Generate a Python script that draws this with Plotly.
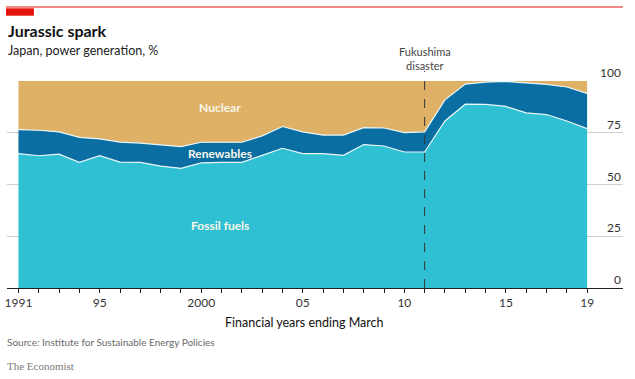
import plotly.graph_objects as go

years = list(range(1991, 2020))
fossil = [64.9, 63.9, 64.7, 60.7, 63.9, 60.8, 60.7, 58.9, 57.8, 60.4, 60.7, 60.7, 64.1, 67.5, 64.9,
          64.9, 64.1, 69.3, 68.6, 65.7, 65.7, 80.7, 88.8, 88.7, 87.7, 84.6, 83.8, 80.7, 77.0]
renewables = [11.6, 12.3, 10.7, 12.1, 8.1, 9.7, 9.3, 10.4, 10.5, 10.0, 9.8, 9.7, 9.4, 10.5, 10.5,
              9.0, 9.8, 8.2, 8.7, 9.4, 9.7, 10.2, 9.7, 10.8, 12.1, 14.4, 14.6, 16.4, 17.0]
nuclear = [23.5, 23.8, 24.6, 27.2, 28.0, 29.5, 30.0, 30.7, 31.7, 29.6, 29.5, 29.6, 26.5, 22.0, 24.6,
           26.1, 26.1, 22.5, 22.7, 24.9, 24.6, 9.1, 1.5, 0.5, 0.2, 1.0, 1.6, 2.9, 6.0]
labelled_ticks = {1991: "1991", 1995: "95", 2000: "2000", 2005: "05", 2010: "10", 2015: "15", 2019: "19"}
y_ticks = [0, 25, 50, 75, 100]

C_FOSSIL = "#2fc1d3"
C_RENEW = "#0a6ea3"
C_NUCLEAR = "#dfb166"
FONT = "Lato"

fig = go.Figure()
fig.add_trace(go.Scatter(x=years, y=fossil, stackgroup="one", mode="lines",
                         line=dict(color="#e8f6f8", width=1.2), fillcolor=C_FOSSIL, name="Fossil fuels"))
fig.add_trace(go.Scatter(x=years, y=renewables, stackgroup="one", mode="lines",
                         line=dict(color="#e8f6f8", width=1.2), fillcolor=C_RENEW, name="Renewables"))
fig.add_trace(go.Scatter(x=years, y=nuclear, stackgroup="one", mode="lines",
                         line=dict(color=C_NUCLEAR, width=0), fillcolor=C_NUCLEAR, name="Nuclear"))

L, R, T, B = 5, 12, 81, 91
W, H = 635, 379
pw, ph = W - L - R, H - T - B
ppy = (587 - 16.5) / 28.0
x0 = 1991 - (16.5 - L) / ppy
x1 = 2019 + (W - R - 587) / ppy


def py(p):
    return (H - B - p) / ph


def px(p):
    return (p - L) / pw


fig.update_layout(
    width=W, height=H,
    margin=dict(l=L, r=R, t=T, b=B),
    paper_bgcolor="white", plot_bgcolor="white",
    showlegend=False,
    font=dict(family=FONT, color="#333333"),
    xaxis=dict(range=[x0, x1], tickvals=years,
               ticktext=[labelled_ticks.get(y, "") for y in years],
               ticks="outside", ticklen=4, tickcolor="#222222", tickwidth=1,
               showline=True, linecolor="#222222", linewidth=1,
               showgrid=False, zeroline=False,
               tickfont=dict(size=12, color="#333333", family=FONT)),
    yaxis=dict(range=[0, 100], showticklabels=False, showgrid=True,
               gridcolor="#cfcfcf", gridwidth=1, tickvals=y_ticks, zeroline=False),
)

ann = []
for v in y_ticks:
    ann.append(dict(x=1.0, y=v, xref="paper", yref="y", text=str(v), showarrow=False,
                    xanchor="right", yanchor="bottom", yshift=-1,
                    font=dict(size=12, color="#333333", family=FONT)))

# area labels
for txt, yv in [("Nuclear", 87), ("Renewables", 65.2), ("Fossil fuels", 30.4)]:
    ann.append(dict(x=2000.9, y=yv, xref="x", yref="y", text="<b>" + txt + "</b>", showarrow=False,
                    xanchor="center", yanchor="middle",
                    font=dict(size=12, color="#fbf6ea", family=FONT)))

ann.append(dict(x=2011, y=py(58.5), xref="x", yref="paper", text="Fukushima<br>disaster",
                showarrow=False, xanchor="center", yanchor="middle",
                font=dict(size=11, color="#444444", family=FONT)))

ann += [
    dict(x=px(4), y=py(30), xref="paper", yref="paper", text="<b>Jurassic spark</b>", showarrow=False,
         xanchor="left", yanchor="middle", font=dict(size=16, color="#111111", family=FONT)),
    dict(x=px(4), y=py(50), xref="paper", yref="paper", text="Japan, power generation, %", showarrow=False,
         xanchor="left", yanchor="middle", font=dict(size=12.5, color="#222222", family=FONT)),
    dict(x=px(303), y=py(322), xref="paper", yref="paper", text="Financial years ending March",
         showarrow=False, xanchor="center", yanchor="middle",
         font=dict(size=12.5, color="#111111", family=FONT)),
    dict(x=px(3), y=py(342), xref="paper", yref="paper",
         text="Source: Institute for Sustainable Energy Policies", showarrow=False,
         xanchor="left", yanchor="middle", font=dict(size=10, color="#6a6a6a", family=FONT)),
    dict(x=px(3), y=py(366), xref="paper", yref="paper", text="The Economist", showarrow=False,
         xanchor="left", yanchor="middle",
         font=dict(size=11, color="#7a7a7a", family="Liberation Serif")),
]
fig.update_layout(annotations=ann)

fig.add_shape(type="rect", xref="paper", yref="paper", x0=px(4), x1=px(32), y0=py(15.7), y1=py(8.3),
              fillcolor="#e3120b", line=dict(width=0), layer="above")
fig.add_shape(type="rect", xref="paper", yref="paper", x0=px(4), x1=px(623), y0=py(7.6), y1=py(6.4),
              fillcolor="#e3120b", line=dict(width=0), layer="above")
fig.add_shape(type="line", xref="x", yref="paper", x0=2011, x1=2011, y0=0, y1=py(71),
              line=dict(color="#333333", width=1, dash="dash"))

fig.write_html("out.html", config={"displayModeBar": False},
               post_script="document.body.style.margin='0';document.body.style.padding='0';"
                           "document.documentElement.style.overflow='hidden';")
